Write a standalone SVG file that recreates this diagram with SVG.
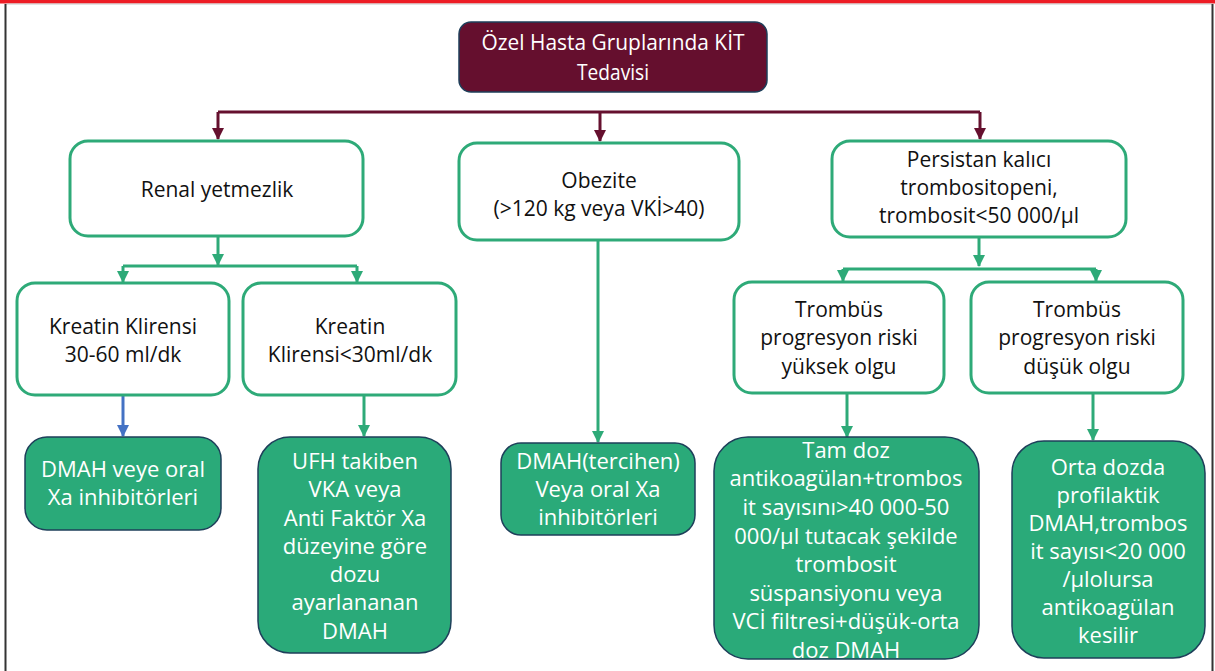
<svg xmlns="http://www.w3.org/2000/svg" width="1215" height="671" viewBox="0 0 1215 671">
<style>
.w{fill:#fff;stroke:#2EAA78;stroke-width:3}
.g{fill:#2AAA79;stroke:#1E3F5A;stroke-width:1.5}
.t{font-family:"Open Sans","Liberation Sans",sans-serif;font-size:21px;fill:#111;text-anchor:middle}
.tw{font-family:"Open Sans","Liberation Sans",sans-serif;font-size:22px;fill:#fff;text-anchor:middle}
.cg{fill:none;stroke:#2EAA78;stroke-width:3}
.cm{fill:none;stroke:#65102E;stroke-width:3}
.cb{fill:none;stroke:#4472C4;stroke-width:3}
</style>
<defs>
<marker id="am" markerUnits="userSpaceOnUse" markerWidth="12" markerHeight="12" viewBox="0 0 12 12" refX="6" refY="11" orient="0"><path d="M0,0 L12,0 L6,12 Z" fill="#65102E"/></marker>
<marker id="ab" markerUnits="userSpaceOnUse" markerWidth="12" markerHeight="12" viewBox="0 0 12 12" refX="6" refY="11" orient="0"><path d="M0,0 L12,0 L6,12 Z" fill="#4472C4"/></marker>
<marker id="ag2" markerUnits="userSpaceOnUse" markerWidth="12" markerHeight="12" viewBox="0 0 12 12" refX="6" refY="11" orient="0"><path d="M0,0 L12,0 L6,12 Z" fill="#2EAA78"/></marker>
</defs>
<rect x="0" y="0" width="1215" height="671" fill="#fff"/>
<rect x="0" y="0" width="1215" height="3.5" fill="#ED1C24"/>
<line x1="6" y1="4" x2="1212" y2="4" stroke="#c8c8c8" stroke-width="1"/>
<line x1="5.5" y1="4" x2="5.5" y2="671" stroke="#333" stroke-width="2"/>
<line x1="1212.5" y1="4" x2="1212.5" y2="671" stroke="#333" stroke-width="2"/>

<g id="connectors">
<path class="cm" d="M218 112 H980"/>
<path class="cm" d="M218 112 V139" marker-end="url(#am)"/>
<path class="cm" d="M600 112 V141" marker-end="url(#am)"/>
<path class="cm" d="M980 112 V139" marker-end="url(#am)"/>
<path class="cg" d="M218 236 V265" marker-end="url(#ag2)"/>
<path class="cg" d="M123 266 H357"/>
<path class="cg" d="M123 266 V282" marker-end="url(#ag2)"/>
<path class="cg" d="M357 266 V282" marker-end="url(#ag2)"/>
<path class="cb" d="M123 395 V436" marker-end="url(#ab)"/>
<path class="cg" d="M364 395 V436" marker-end="url(#ag2)"/>
<path class="cg" d="M598 240 V442" marker-end="url(#ag2)"/>
<path class="cg" d="M979 237 V266" marker-end="url(#ag2)"/>
<path class="cg" d="M843 269 H1096"/>
<path class="cg" d="M843 269 V281" marker-end="url(#ag2)"/>
<path class="cg" d="M1096 269 V281" marker-end="url(#ag2)"/>
<path class="cg" d="M847 393 V437" marker-end="url(#ag2)"/>
<path class="cg" d="M1093 393 V440" marker-end="url(#ag2)"/>
</g>

<g id="root">
<rect x="459" y="22" width="308" height="70" rx="12" fill="#650F2E" stroke="#1E3F5A" stroke-width="1.5"/>
<text x="613" y="50" font-family="'Open Sans','Liberation Sans',sans-serif" font-size="22" fill="#fff" text-anchor="middle" textLength="263" lengthAdjust="spacingAndGlyphs">Özel Hasta Gruplarında KİT</text>
<text x="613" y="80" font-family="'Open Sans','Liberation Sans',sans-serif" font-size="22" fill="#fff" text-anchor="middle" textLength="72" lengthAdjust="spacingAndGlyphs">Tedavisi</text>
</g>

<g id="renal">
<rect class="w" x="70" y="141" width="293" height="95" rx="18"/>
<text class="t" x="217" y="197">Renal yetmezlik</text>
</g>
<g id="obezite">
<rect class="w" x="459" y="143" width="280" height="97" rx="18"/>
<text class="t" x="599" y="188">Obezite</text>
<text class="t" x="599" y="216">(&gt;120 kg veya VKİ&gt;40)</text>
</g>
<g id="persistan">
<rect class="w" x="832" y="141" width="294" height="96" rx="18"/>
<text class="t" x="979" y="167">Persistan kalıcı</text>
<text class="t" x="979" y="195">trombositopeni,</text>
<text class="t" x="979" y="223">trombosit&lt;50 000/µl</text>
</g>

<g id="kk1">
<rect class="w" x="17" y="283" width="212" height="112" rx="18"/>
<text class="t" x="123" y="334">Kreatin Klirensi</text>
<text class="t" x="123" y="362">30-60 ml/dk</text>
</g>
<g id="kk2">
<rect class="w" x="243" y="283" width="213" height="112" rx="18"/>
<text class="t" x="350" y="334">Kreatin</text>
<text class="t" x="350" y="362">Klirensi&lt;30ml/dk</text>
</g>
<g id="tr1">
<rect class="w" x="734" y="282" width="210" height="111" rx="18"/>
<text class="t" x="839" y="317">Trombüs</text>
<text class="t" x="839" y="345">progresyon riski</text>
<text class="t" x="839" y="374">yüksek olgu</text>
</g>
<g id="tr2">
<rect class="w" x="971" y="282" width="212" height="111" rx="18"/>
<text class="t" x="1077" y="317">Trombüs</text>
<text class="t" x="1077" y="345">progresyon riski</text>
<text class="t" x="1077" y="374">düşük olgu</text>
</g>

<g id="dmah1">
<rect class="g" x="25" y="437" width="196" height="93" rx="22"/>
<text class="tw" x="123" y="477">DMAH veye oral</text>
<text class="tw" x="123" y="505">Xa inhibitörleri</text>
</g>
<g id="ufh">
<rect class="g" x="258" y="437" width="193" height="216" rx="32"/>
<text class="tw" x="355" y="469">UFH takiben</text>
<text class="tw" x="355" y="497">VKA veya</text>
<text class="tw" x="355" y="526">Anti Faktör Xa</text>
<text class="tw" x="355" y="554">düzeyine göre</text>
<text class="tw" x="355" y="582">dozu</text>
<text class="tw" x="355" y="610">ayarlananan</text>
<text class="tw" x="355" y="639">DMAH</text>
</g>
<g id="dmah2">
<rect class="g" x="501" y="443" width="194" height="92" rx="20"/>
<text class="tw" x="598" y="469">DMAH(tercihen)</text>
<text class="tw" x="598" y="497">Veya oral Xa</text>
<text class="tw" x="598" y="525">inhibitörleri</text>
</g>
<g id="tamdoz">
<rect class="g" x="714" y="437" width="265" height="222" rx="34"/>
<text class="tw" x="846" y="458">Tam doz</text>
<text class="tw" x="846" y="486">antikoagülan+trombos</text>
<text class="tw" x="846" y="515">it sayısını&gt;40 000-50</text>
<text class="tw" x="846" y="544">000/µl tutacak şekilde</text>
<text class="tw" x="846" y="572">trombosit</text>
<text class="tw" x="846" y="601">süspansiyonu veya</text>
<text class="tw" x="846" y="629">VCİ filtresi+düşük-orta</text>
<text class="tw" x="846" y="658">doz DMAH</text>
</g>
<g id="orta">
<rect class="g" x="1012" y="441" width="193" height="217" rx="32"/>
<text class="tw" x="1108" y="475">Orta dozda</text>
<text class="tw" x="1108" y="503">profilaktik</text>
<text class="tw" x="1108" y="531">DMAH,trombos</text>
<text class="tw" x="1108" y="559">it sayısı&lt;20 000</text>
<text class="tw" x="1108" y="587">/µlolursa</text>
<text class="tw" x="1108" y="615">antikoagülan</text>
<text class="tw" x="1108" y="643">kesilir</text>
</g>
</svg>
